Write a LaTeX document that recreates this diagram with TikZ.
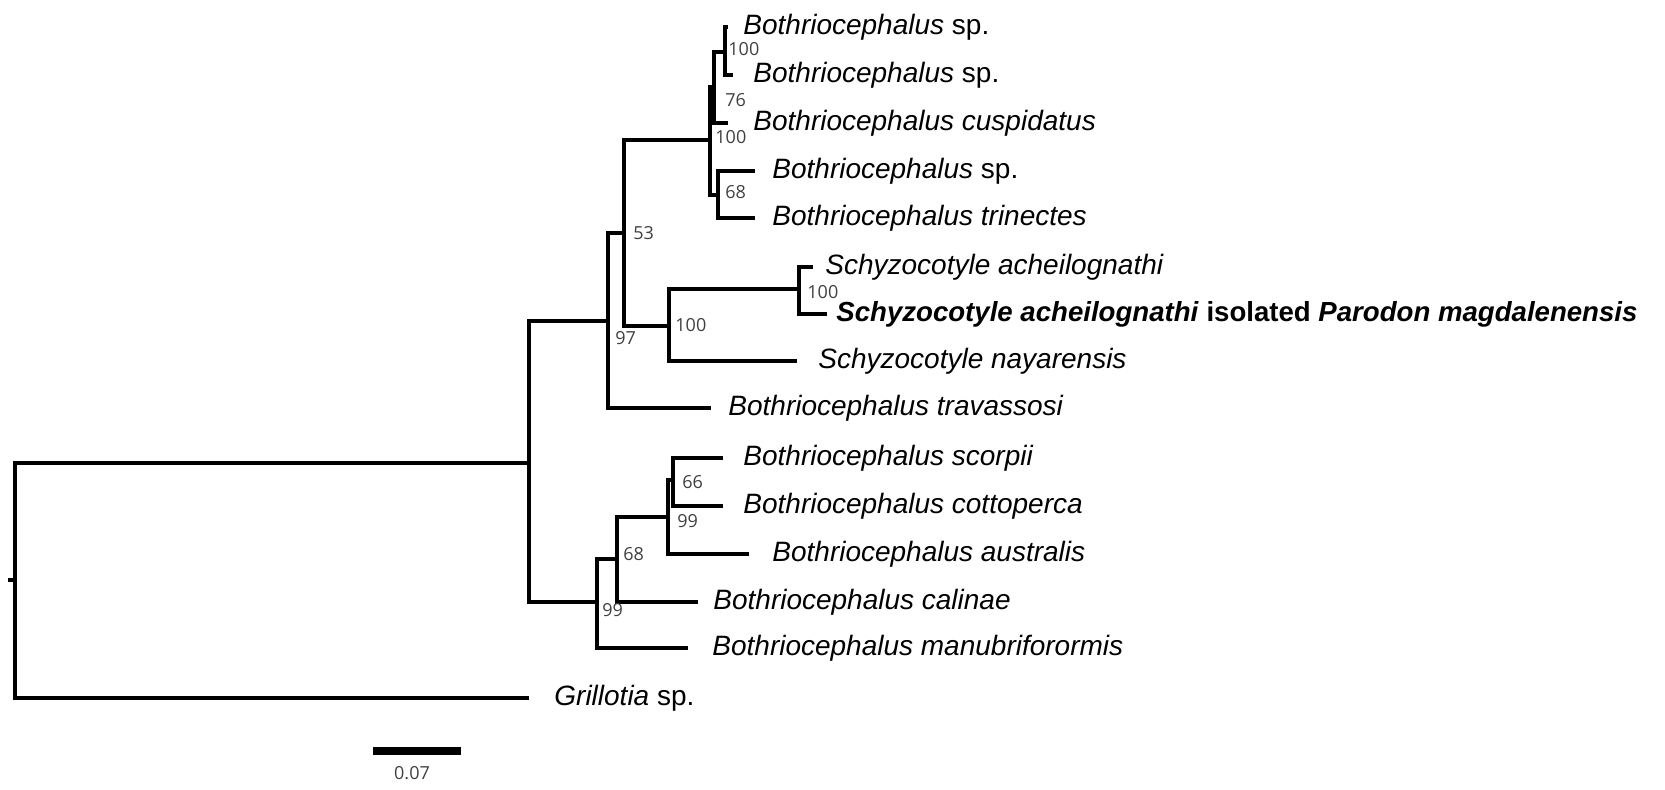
\documentclass[tikz,border=0pt]{standalone}
\usepackage{fontspec}
\setmainfont{Liberation Sans}
\newfontfamily\bootfont{Open Sans}
\usetikzlibrary{positioning}

\begin{document}
\begin{tikzpicture}[x=0.5pt, y=-0.5pt,
    branch/.style={line width=1.8pt, line join=miter},
    taxon/.style={anchor=west, inner sep=0pt, font=\fontsize{14}{16}\selectfont\itshape},
    boot/.style={anchor=west, inner sep=0pt, text=black!75, font=\bootfont\fontsize{9}{10}\selectfont}]
    \useasboundingbox (0,0) rectangle (1665,789);

    % Internal nodes of the tree
    \coordinate (stub) at (8,580);
    \coordinate (root) at (15,580);
    \coordinate (nA) at (529,463);
    \coordinate (n97) at (608,321);
    \coordinate (n53) at (624,233);
    \coordinate (n100d) at (710,140);
    \coordinate (n76) at (714,87);
    \coordinate (n100f) at (725,52);
    \coordinate (n68g) at (718,195);
    \coordinate (n100h) at (669,326);
    \coordinate (n100i) at (799,289);
    \coordinate (n99j) at (597,602);
    \coordinate (n68k) at (617,559);
    \coordinate (n99l) at (668,517);
    \coordinate (n66) at (673,480);

    % Tips of the branches
    \coordinate (lsp1) at (728,27);
    \coordinate (lsp2) at (733,75);
    \coordinate (lcusp) at (728,123);
    \coordinate (lsp3) at (755,171);
    \coordinate (ltrin) at (755,218);
    \coordinate (lsach) at (813,267);
    \coordinate (lsmag) at (827,314);
    \coordinate (lsnay) at (797,361);
    \coordinate (ltrav) at (711,408);
    \coordinate (lscor) at (723,458);
    \coordinate (lcott) at (723,506);
    \coordinate (laust) at (749,554);
    \coordinate (lcali) at (698,602);
    \coordinate (lmanu) at (688,648);
    \coordinate (lgril) at (529,698);

    % Branches
    \draw[branch] (stub) -- (root);
    \draw[branch] (root) |- (nA) (root) |- (lgril);
    \draw[branch] (nA) |- (n97) (nA) |- (n99j);
    \draw[branch] (n97) |- (n53) (n97) |- (ltrav);
    \draw[branch] (n53) |- (n100d) (n53) |- (n100h);
    \draw[branch] (n100d) |- (n76) (n100d) |- (n68g);
    \draw[branch] (n76) |- (n100f) (n76) |- (lcusp);
    \draw[branch] (n100f) |- (lsp1) (n100f) |- (lsp2);
    \draw[branch] (n68g) |- (lsp3) (n68g) |- (ltrin);
    \draw[branch] (n100h) |- (n100i) (n100h) |- (lsnay);
    \draw[branch] (n100i) |- (lsach) (n100i) |- (lsmag);
    \draw[branch] (n99j) |- (n68k) (n99j) |- (lmanu);
    \draw[branch] (n68k) |- (n99l) (n68k) |- (lcali);
    \draw[branch] (n99l) |- (n66) (n99l) |- (laust);
    \draw[branch] (n66) |- (lscor) (n66) |- (lcott);

    % Taxon names
    \node[taxon] (bsp1) at (743,27) {Bothriocephalus \textup{sp.}};
    \node[taxon] (bsp2) at (753,75) {Bothriocephalus \textup{sp.}};
    \node[taxon] (bcusp) at (753,123) {Bothriocephalus cuspidatus};
    \node[taxon] (bsp3) at (772,171) {Bothriocephalus \textup{sp.}};
    \node[taxon] (btrin) at (772,218) {Bothriocephalus trinectes};
    \node[taxon] (sach) at (825,267) {Schyzocotyle acheilognathi};
    \node[taxon, font=\fontsize{13.8}{16}\selectfont\itshape\bfseries] (smag) at (836,314) {Schyzocotyle acheilognathi \textup{isolated} Parodon magdalenensis};
    \node[taxon] (snay) at (818,361) {Schyzocotyle nayarensis};
    \node[taxon] (btrav) at (728,408) {Bothriocephalus travassosi};
    \node[taxon] (bscor) at (743,458) {Bothriocephalus scorpii};
    \node[taxon] (bcott) at (743,506) {Bothriocephalus cottoperca};
    \node[taxon] (baust) at (772,554) {Bothriocephalus australis};
    \node[taxon] (bcali) at (713,602) {Bothriocephalus calinae};
    \node[taxon] (bmanu) at (712,648) {Bothriocephalus manubriforormis};
    \node[taxon] (gril) at (554,698) {Grillotia \textup{sp.}};

    % Bootstrap values
    \node[boot] (b100f) at (728,49) {100};
    \node[boot] (b76) at (725,100) {76};
    \node[boot] (b100d) at (715,137) {100};
    \node[boot] (b68g) at (725,192) {68};
    \node[boot] (b53) at (633,233) {53};
    \node[boot] (b97) at (615,338) {97};
    \node[boot] (b100h) at (675,325) {100};
    \node[boot] (b100i) at (807,292) {100};
    \node[boot] (b66) at (682,482) {66};
    \node[boot] (b99l) at (677,521) {99};
    \node[boot] (b68k) at (623,554) {68};
    \node[boot] (b99j) at (602,610) {99};

    % Scale bar
    \coordinate (sbl) at (373,751);
    \coordinate (sbr) at (461,751);
    \draw[line width=4pt] (sbl) -- (sbr);
    \node[boot, anchor=center] (sblabel) at (412,773) {0.07};
\end{tikzpicture}
\end{document}
